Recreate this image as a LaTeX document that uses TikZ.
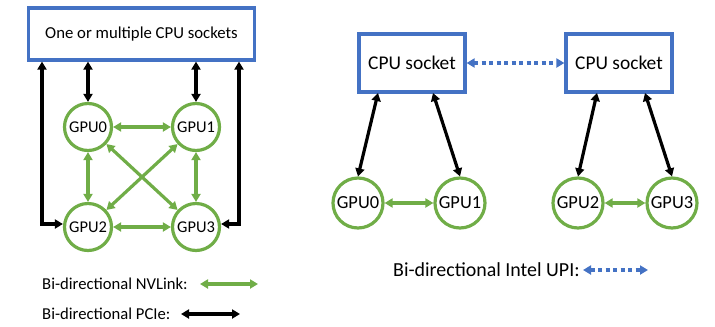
\documentclass[tikz,border=0pt]{standalone}
\usepackage{fontspec}
\setmainfont{Carlito}
\usetikzlibrary{arrows.meta}
\definecolor{cblue}{HTML}{4472C4}
\definecolor{cgreen}{HTML}{70AD47}
\begin{document}
\begin{tikzpicture}[x=1bp,y=-1bp,
  cpubox/.style={draw=cblue,line width=3.2bp,fill=white,inner sep=0pt},
  gpu/.style={circle,draw=cgreen,line width=3.2bp,minimum size=45bp,inner sep=0pt},
  pcie/.style={line width=3.2bp,black,{Triangle[length=8bp,width=9bp]}-{Triangle[length=8bp,width=9bp]}},
  nvl/.style={line width=3.2bp,cgreen,{Triangle[length=8bp,width=9bp]}-{Triangle[length=8bp,width=9bp]}},
  upi/.style={line width=3.2bp,cblue,dash pattern=on 4bp off 3.5bp,{Triangle[length=8bp,width=9bp]}-{Triangle[length=8bp,width=9bp]}},
  lbl/.style={inner sep=0pt,anchor=west}]
\useasboundingbox (0,0) rectangle (715,326);
% left panel
\node[cpubox,minimum width=226bp,minimum height=52bp,font=\fontsize{16.8}{19}\selectfont] (cpuall) at (141.5,34) {One or multiple CPU sockets};
\begin{scope}[every node/.append style={font=\fontsize{16.5}{19}\selectfont}]
\node[gpu,minimum size=47bp] (a0) at (88,127) {GPU0};
\node[gpu,minimum size=47bp] (a1) at (196,127) {GPU1};
\node[gpu,minimum size=47bp] (a2) at (88,227) {GPU2};
\node[gpu,minimum size=47bp] (a3) at (196,227) {GPU3};
\end{scope}
\draw[pcie] (cpuall.south -| a0) -- (a0);
\draw[pcie] (cpuall.south -| a1) -- (a1);
\coordinate (bl) at (42,224);
\coordinate (br) at (239,224);
\draw[pcie] (cpuall.south -| bl) -- (bl) -- (a2.west |- bl);
\draw[pcie] (cpuall.south -| br) -- (br) -- (a3.east |- br);
\draw[nvl] (a0) -- (a1);
\draw[nvl] (a2) -- (a3);
\draw[nvl] (a0) -- (a2);
\draw[nvl] (a1) -- (a3);
\draw[nvl] (a0) -- (a3);
\draw[nvl] (a1) -- (a2);
% left legend
\node[lbl,font=\fontsize{16.7}{19}\selectfont] (lnv) at (42,284) {Bi-directional NVLink:};
\coordinate (lnve) at (258,284);
\draw[nvl] (200,284) coordinate (lnvs) -- (lnve);
\node[lbl,font=\fontsize{16.7}{19}\selectfont] (lpc) at (42,314) {Bi-directional PCIe:};
\coordinate (lpce) at (240,314);
\draw[pcie] (181,314) coordinate (lpcs) -- (lpce);
% right panel
\node[cpubox,minimum width=106bp,minimum height=58bp,font=\fontsize{19.5}{22}\selectfont] (s0) at (412,63) {CPU socket};
\node[cpubox,minimum width=106bp,minimum height=58bp,font=\fontsize{19.5}{22}\selectfont] (s1) at (619,63) {CPU socket};
\draw[upi] (s0) -- (s1);
\begin{scope}[every node/.append style={font=\fontsize{18.5}{21}\selectfont}]
\node[gpu,minimum size=50bp] (b0) at (358,203) {GPU0};
\node[gpu,minimum size=50bp] (b1) at (460,203) {GPU1};
\node[gpu,minimum size=50bp] (b2) at (578,203) {GPU2};
\node[gpu,minimum size=50bp] (b3) at (672,203) {GPU3};
\end{scope}
\draw[pcie] (378,93) -- (b0.north);
\draw[pcie] (433,93) -- (b1.north);
\draw[pcie] (597,93) -- (b2.north);
\draw[pcie] (645,93) -- (b3.north);
\draw[nvl] (b0) -- (b1);
\draw[nvl] (b2) -- (b3);
\node[lbl,font=\fontsize{20}{23}\selectfont] (lupi) at (393,270) {Bi-directional Intel UPI:};
\draw[upi] (583,270) coordinate (lups) -- (648,270) coordinate (lupe);
\end{tikzpicture}
\end{document}
